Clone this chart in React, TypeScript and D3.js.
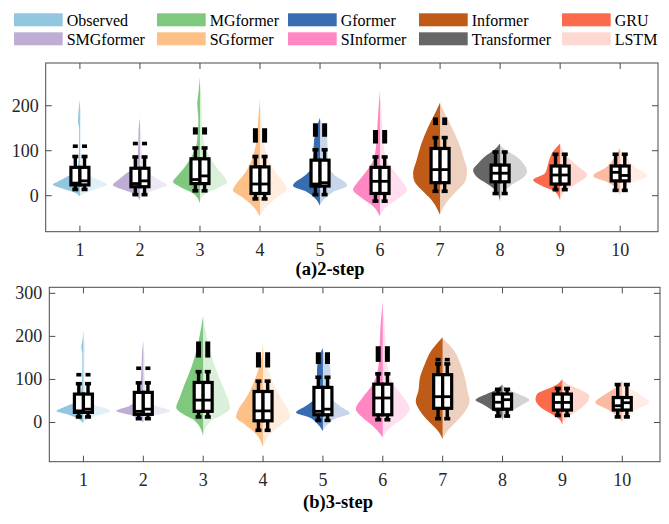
import React from 'react';
import * as d3 from 'd3';

// ---------- data ----------
const categories = [1, 2, 3, 4, 5, 6, 7, 8, 9, 10];
const seriesNames = ['Observed', 'SMGformer', 'MGformer', 'SGformer', 'Gformer', 'SInformer', 'Informer', 'Transformer', 'GRU', 'LSTM'];
const violinColors = ['#92C5DE', '#BEAED4', '#7FC97F', '#FDC086', '#386CB0', '#FF88C4', '#BF5B17', '#666666', '#FB6A4A', '#FCBBA1'];
const legendColors = ['#92C5DE', '#BEAED4', '#7FC97F', '#FDC086', '#386CB0', '#FF88C4', '#BF5B17', '#666666', '#FB6A4A', '#FDD9D1'];
const yTicksA = [0, 100, 200];
const yTicksB = [0, 100, 200, 300];
const titleA = '(a)2-step';
const titleB = '(b)3-step';

type Prof = [number, number][];
// violin outlines: [value, relative half-width]
const violinA_left: Prof[] = [
  [[214, 0], [195, 0.04], [179, 0.06], [164, 0.07], [150, 0.03], [120, 0.03], [80, 0.05], [57, 0.12], [42, 0.48], [31, 0.83], [25, 1], [16, 0.65], [7, 0.2], [-2, 0]],
  [[172, 0], [150, 0.05], [120, 0.06], [90, 0.08], [64, 0.19], [50, 0.5], [35, 0.81], [24, 1], [16, 0.75], [5, 0.25], [-11, 0]],
  [[265, 0], [228, 0.06], [205, 0.1], [168, 0.06], [116, 0.12], [87, 0.31], [64, 0.56], [42, 0.87], [31, 1], [20, 0.75], [5, 0.25], [-17, 0]],
  [[218, 0], [175, 0.06], [116, 0.15], [79, 0.31], [50, 0.56], [27, 0.87], [12, 1], [-2, 0.69], [-24, 0.25], [-47, 0]],
  [[174, 0], [153, 0.12], [124, 0.22], [94, 0.25], [64, 0.31], [42, 0.62], [29, 0.94], [22, 1], [9, 0.5], [-10, 0.12], [-23, 0]],
  [[235, 0], [190, 0.06], [153, 0.1], [109, 0.15], [79, 0.25], [50, 0.56], [27, 0.87], [13, 1], [-2, 0.75], [-24, 0.25], [-47, 0]],
  [[207, 0], [183, 0.19], [153, 0.44], [116, 0.69], [79, 0.87], [50, 1], [35, 0.97], [13, 0.69], [-10, 0.31], [-43, 0]],
  [[116, 0], [102, 0.22], [87, 0.56], [72, 0.81], [57, 1], [42, 0.87], [27, 0.5], [13, 0.19], [-13, 0]],
  [[116, 0], [94, 0.31], [72, 0.44], [50, 0.56], [35, 1], [24, 0.75], [9, 0.19], [-11, 0]],
  [[107, 0], [87, 0.19], [64, 0.5], [44, 1], [31, 0.5], [16, 0.12], [-2, 0]],
];
const violinA_right: Prof[] = [
  [[205, 0], [180, 0.04], [150, 0.03], [100, 0.04], [65, 0.08], [45, 0.35], [33, 0.75], [25, 1], [15, 0.6], [5, 0.15], [-1, 0]],
  [[165, 0], [130, 0.05], [90, 0.07], [64, 0.15], [45, 0.45], [32, 0.8], [24, 1], [14, 0.6], [3, 0.15], [-6, 0]],
  [[250, 0], [215, 0.06], [170, 0.07], [120, 0.14], [90, 0.33], [64, 0.6], [42, 0.9], [30, 1], [18, 0.7], [5, 0.22], [-12, 0]],
  [[210, 0], [170, 0.06], [116, 0.15], [79, 0.33], [50, 0.6], [27, 0.9], [14, 1], [0, 0.7], [-24, 0.25], [-45, 0]],
  [[170, 0], [150, 0.15], [124, 0.27], [94, 0.28], [64, 0.33], [42, 0.62], [29, 0.95], [22, 1], [9, 0.5], [-10, 0.12], [-20, 0]],
  [[225, 0], [180, 0.06], [140, 0.1], [100, 0.16], [75, 0.28], [50, 0.58], [27, 0.88], [12, 1], [-3, 0.75], [-24, 0.25], [-44, 0]],
  [[205, 0], [180, 0.2], [150, 0.45], [116, 0.7], [79, 0.9], [57, 1], [35, 0.95], [13, 0.66], [-10, 0.3], [-40, 0]],
  [[112, 0], [100, 0.25], [87, 0.6], [72, 0.85], [54, 1], [40, 0.85], [27, 0.5], [13, 0.2], [-8, 0]],
  [[112, 0], [87, 0.25], [64, 0.69], [46, 1], [27, 0.62], [9, 0.15], [-8, 0]],
  [[105, 0], [87, 0.2], [64, 0.55], [44, 1], [31, 0.5], [16, 0.12], [0, 0]],
];
const violinB_left: Prof[] = [
  [[213, 0], [190, 0.04], [175, 0.08], [160, 0.04], [136, 0.04], [100, 0.05], [66, 0.1], [47, 0.31], [35, 0.75], [27, 1], [19.5, 0.62], [8, 0.19], [-2, 0]],
  [[191, 0], [160, 0.05], [120, 0.07], [66, 0.15], [39, 0.5], [27, 1], [18, 0.5], [0, 0]],
  [[248, 0], [205, 0.12], [167, 0.25], [128, 0.44], [89, 0.69], [58, 0.87], [35, 1], [19.5, 0.75], [4, 0.31], [-31, 0]],
  [[186, 0], [150, 0.06], [128, 0.15], [89, 0.37], [58, 0.62], [27, 0.94], [12, 1], [-4, 0.69], [-27, 0.25], [-58, 0]],
  [[173, 0], [151, 0.15], [120, 0.22], [89, 0.22], [58, 0.27], [39, 0.62], [23, 1], [11.7, 0.5], [-4, 0.19], [-20, 0]],
  [[281, 0], [244, 0.06], [205, 0.1], [167, 0.12], [120, 0.19], [89, 0.37], [58, 0.75], [31, 1], [11.7, 0.75], [-11.5, 0.31], [-35, 0]],
  [[198, 0], [167, 0.42], [136, 0.66], [105, 0.84], [74, 0.9], [50, 1], [27, 0.84], [4, 0.54], [-19, 0.18], [-38, 0]],
  [[88, 0], [74, 0.31], [62, 0.75], [52, 1], [43, 0.75], [31, 0.44], [19.5, 0.12], [4, 0]],
  [[101, 0], [89, 0.19], [77.6, 0.56], [66, 0.94], [54, 1], [39, 0.87], [23, 0.5], [11.7, 0.19], [-5, 0]],
  [[97, 0], [81.5, 0.25], [66, 0.62], [46.6, 1], [31, 0.56], [15.6, 0.19], [0, 0]],
];
const violinB_right: Prof[] = [
  [[205, 0], [175, 0.05], [130, 0.04], [90, 0.05], [60, 0.1], [40, 0.45], [27, 1], [18, 0.6], [8, 0.18], [0, 0]],
  [[185, 0], [150, 0.05], [110, 0.05], [66, 0.12], [40, 0.4], [27, 1], [17, 0.45], [3, 0]],
  [[240, 0], [200, 0.13], [167, 0.26], [128, 0.45], [89, 0.7], [58, 0.9], [33, 1], [18, 0.72], [4, 0.3], [-28, 0]],
  [[180, 0], [150, 0.07], [128, 0.16], [89, 0.4], [58, 0.65], [27, 0.95], [12, 1], [-4, 0.7], [-27, 0.25], [-55, 0]],
  [[168, 0], [145, 0.18], [120, 0.28], [89, 0.27], [58, 0.3], [39, 0.62], [21, 1], [10, 0.5], [-4, 0.18], [-18, 0]],
  [[270, 0], [230, 0.06], [190, 0.1], [150, 0.13], [120, 0.2], [89, 0.4], [58, 0.78], [30, 1], [10, 0.75], [-11, 0.3], [-33, 0]],
  [[195, 0], [167, 0.42], [136, 0.66], [105, 0.82], [74, 0.92], [50, 1], [27, 0.84], [4, 0.54], [-19, 0.18], [-36, 0]],
  [[86, 0], [74, 0.3], [62, 0.75], [52, 1], [43, 0.78], [31, 0.45], [19.5, 0.15], [6, 0]],
  [[98, 0], [89, 0.2], [78, 0.6], [62, 1], [50, 0.95], [39, 0.8], [23, 0.45], [11, 0.15], [-3, 0]],
  [[95, 0], [81, 0.25], [66, 0.62], [46, 1], [31, 0.55], [15, 0.18], [2, 0]],
];

// box stats: [whiskerLow, q1, median, q3, whiskerHigh]
const boxA_left: number[][] = [
  [13, 24, 28, 63, 88], [1.5, 20, 27, 61, 87], [10, 27, 36, 82, 107], [-8, 5, 26, 64, 88], [1.5, 21.5, 26, 79, 103],
  [-13, 5, 32, 63, 87], [9, 29, 58, 105, 130], [4, 31, 50, 68, 98], [12.6, 26, 46, 66, 93], [11, 33, 52, 66, 93],
];
const boxA_right: number[][] = [
  [13, 24, 33, 63, 88], [1.5, 20, 33, 61, 87], [10, 27, 44, 82, 107], [-8, 5, 26, 64, 88], [1.5, 21.5, 29, 79, 103],
  [-13, 5, 32, 63, 87], [9, 29, 58, 105, 130], [4, 31, 50, 68, 98], [12.6, 26, 46, 66, 93], [11, 33, 45, 66, 93],
];
const boxB_left: number[][] = [
  [12, 23.5, 27, 66, 91], [8, 19, 26, 70, 93], [12, 26, 52, 93, 119], [-19, 4, 27, 72, 97], [4, 18, 26, 81.5, 106],
  [5.5, 18, 57, 89, 114], [8, 33, 60, 111, 137], [14, 31, 47, 66, 78], [15.6, 29, 46.6, 66, 80], [12, 29, 39, 58, 89],
];
const boxB_right: number[][] = [
  [12, 23.5, 31, 66, 91], [8, 19, 31, 70, 93], [12, 26, 52, 93, 119], [-19, 4, 27, 72, 97], [4, 18, 31, 81.5, 106],
  [5.5, 18, 57, 89, 114], [8, 33, 60, 111, 137], [14, 31, 53, 66, 78], [15.6, 29, 46.6, 66, 80], [12, 29, 46, 58, 89],
];
// outlier ranges [low, high] (shared by both halves), null = none
const outliersA: ([number, number] | null)[] = [[110, 110], [116, 116], [140, 148], [122, 146], [135, 157], [120, 142], [161, 170], null, null, null];
const outliersB: ([number, number] | null)[] = [[111, 111], [126, 126], [155, 184], [132, 159], [140, 159], [145, 173], [146, 146], null, null, null];

// ---------- drawing ----------
const FONT = '"Liberation Serif", "Times New Roman", serif';
const AXIS = '#4a4a4a';
const TEXT = '#262626';

type PanelProps = {
  left: number; top: number; right: number; bottom: number;
  yDomain: [number, number]; yTicks: number[];
  vl: Prof[]; vr: Prof[]; bl: number[][]; br: number[][]; outl: ([number, number] | null)[];
  title: string; titleX: number; titleY: number; labelY: number;
};

function Panel(p: PanelProps) {
  const x = d3.scaleLinear().domain([0.43, 10.63]).range([p.left, p.right]);
  const y = d3.scaleLinear().domain(p.yDomain).range([p.bottom, p.top]);
  const unit = x(1) - x(0);
  const halfW = 0.45 * unit;
  const bw = 9;
  const tick = 6;

  const area = (cx: number, dir: number) =>
    d3.area<[number, number]>()
      .y(d => y(d[0]))
      .x0(() => cx)
      .x1(d => cx + dir * halfW * d[1])
      .curve(d3.curveMonotoneY);

  const drawBox = (cx: number, dir: number, s: number[], o: [number, number] | null, key: string) => {
    const [lo, q1, med, q3, hi] = s;
    const wx = cx + dir * 4.6;
    const rx = dir < 0 ? cx - bw : cx;
    return (
      <g key={key}>
        <line x1={wx} x2={wx} y1={y(q3)} y2={y(hi)} stroke="#000" strokeWidth={3.4} />
        <line x1={wx} x2={wx} y1={y(q1)} y2={y(lo)} stroke="#000" strokeWidth={3.4} />
        <rect x={wx - 3} y={y(hi) - 1.4} width={6} height={3.6} fill="#000" />
        <rect x={wx - 3} y={y(lo) - 2.2} width={6} height={3.6} fill="#000" />
        {o && (
          <rect x={wx - 2.5} y={y(o[1]) - 1.8} width={5} height={y(o[0]) - y(o[1]) + 3.6} fill="#000" />
        )}
        <rect x={rx} y={y(q3)} width={bw} height={y(q1) - y(q3)} fill="#fff" stroke="#000" strokeWidth={3.2} />
        <line x1={rx} x2={rx + bw} y1={y(med)} y2={y(med)} stroke="#000" strokeWidth={2.8} />
      </g>
    );
  };

  return (
    <g>
      <rect x={p.left} y={p.top} width={p.right - p.left} height={p.bottom - p.top} fill="#fff" />
      {categories.map((c, i) => {
        const cx = x(c);
        return (
          <g key={'v' + i}>
            <path d={area(cx, -1)(p.vl[i]) || ''} fill={violinColors[i]} />
            <path d={area(cx, 1)(p.vr[i]) || ''} fill={violinColors[i]} fillOpacity={0.28} />
          </g>
        );
      })}
      {categories.map((c, i) => {
        const cx = x(c);
        return (
          <g key={'b' + i}>
            {drawBox(cx, -1, p.bl[i], p.outl[i], 'l')}
            {drawBox(cx, 1, p.br[i], p.outl[i], 'r')}
          </g>
        );
      })}
      {/* frame */}
      <rect x={p.left} y={p.top} width={p.right - p.left} height={p.bottom - p.top} fill="none" stroke={AXIS} strokeWidth={1} />
      {categories.map(c => (
        <g key={'xt' + c}>
          <line x1={x(c)} x2={x(c)} y1={p.bottom} y2={p.bottom - tick} stroke={AXIS} strokeWidth={1} />
          <line x1={x(c)} x2={x(c)} y1={p.top} y2={p.top + tick} stroke={AXIS} strokeWidth={1} />
          <text x={x(c)} y={p.labelY} textAnchor="middle" fontFamily={FONT} fontSize={18} fill={TEXT}>{c}</text>
        </g>
      ))}
      {p.yTicks.map(t => (
        <g key={'yt' + t}>
          <line x1={p.left} x2={p.left + tick} y1={y(t)} y2={y(t)} stroke={AXIS} strokeWidth={1} />
          <line x1={p.right} x2={p.right - tick} y1={y(t)} y2={y(t)} stroke={AXIS} strokeWidth={1} />
          <text x={p.left - 7} y={y(t)} dy="0.33em" textAnchor="end" fontFamily={FONT} fontSize={18} fill={TEXT}>{t}</text>
        </g>
      ))}
      <text x={p.titleX} y={p.titleY} textAnchor="middle" fontFamily={FONT} fontSize={18.5} fontWeight="bold" fill="#000">{p.title}</text>
    </g>
  );
}

const legendColX = [14, 157, 288, 419, 562];
const legendRowY = [13.3, 32.3];

export default function App() {
  return (
    <svg width={669} height={524} style={{ position: 'absolute', left: 0, top: 0, background: '#fff' }}>
      <rect x={0} y={0} width={669} height={524} fill="#fff" />
      {seriesNames.map((name, i) => {
        const col = Math.floor(i / 2);
        const row = i % 2;
        const sx = legendColX[col];
        const sy = legendRowY[row];
        return (
          <g key={name}>
            <rect x={sx} y={sy} width={48.7} height={13} fill={legendColors[i]} />
            <text x={sx + 52.7} y={sy + 12.5} fontFamily={FONT} fontSize={16} fill="#000">{name}</text>
          </g>
        );
      })}
      <Panel left={45.7} top={63} right={658} bottom={231.7} yDomain={[-80, 295]} yTicks={yTicksA}
        vl={violinA_left} vr={violinA_right} bl={boxA_left} br={boxA_right} outl={outliersA}
        title={titleA} titleX={330} titleY={275} labelY={256} />
      <Panel left={49.3} top={287.3} right={660} bottom={461.7} yDomain={[-91, 314]} yTicks={yTicksB}
        vl={violinB_left} vr={violinB_right} bl={boxB_left} br={boxB_right} outl={outliersB}
        title={titleB} titleX={338} titleY={508} labelY={485.5} />
    </svg>
  );
}
